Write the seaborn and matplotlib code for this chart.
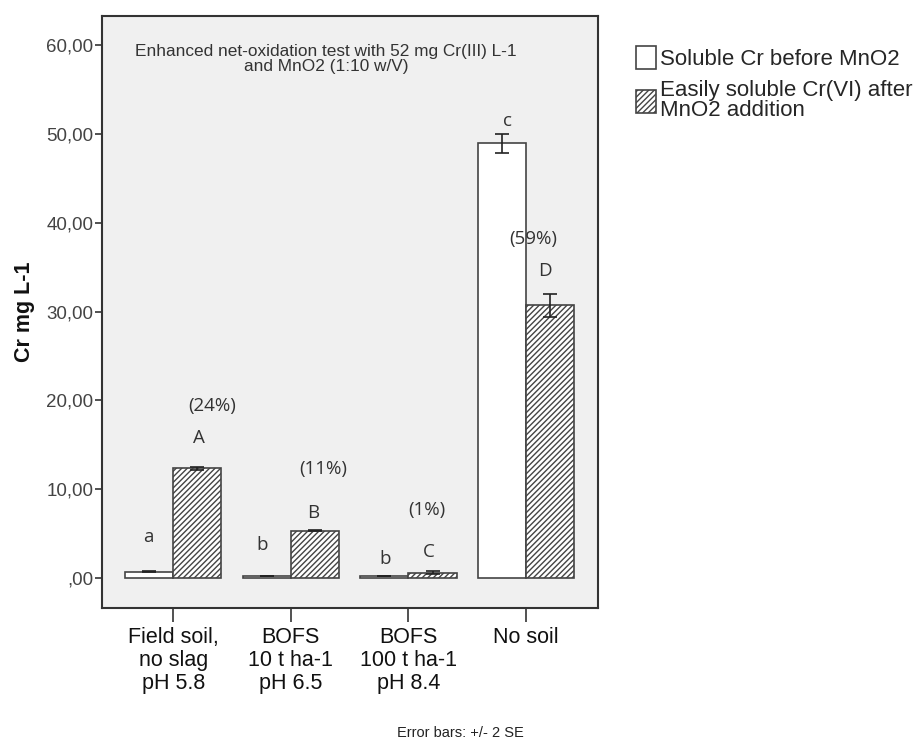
import matplotlib
matplotlib.use("Agg")
import matplotlib.pyplot as plt
from matplotlib.patches import Patch
from matplotlib.ticker import FuncFormatter
import seaborn as sns
import pandas as pd

# ---- data ----
categories = ["Field soil,\nno slag\npH 5.8", "BOFS\n10 t ha-1\npH 6.5",
              "BOFS\n100 t ha-1\npH 8.4", "No soil"]
series_names = ["Soluble Cr before MnO2", "Easily soluble Cr(VI) after\nMnO2 addition"]
before_vals = [0.71, 0.2, 0.2, 48.95]
before_err = [0.05, 0.03, 0.03, 1.07]
after_vals = [12.35, 5.33, 0.6, 30.7]
after_err = [0.15, 0.08, 0.15, 1.3]
letters_before = ["a", "b", "b", "c"]
letters_after = ["A", "B", "C", "D"]
pct_labels = ["(24%)", "(11%)", "(1%)", "(59%)"]
yticks = [0, 10, 20, 30, 40, 50, 60]

df = pd.DataFrame({
    "cat": categories * 2,
    "series": [series_names[0]] * 4 + [series_names[1]] * 4,
    "value": before_vals + after_vals,
})

sns.set_style("white")
plt.rcParams["font.family"] = ["Liberation Sans", "DejaVu Sans"]
plt.rcParams["hatch.linewidth"] = 1.0
plt.rcParams["hatch.color"] = "#333333"

fig = plt.figure(figsize=(9.21, 7.48), dpi=100)
ax = fig.add_axes([0.1107, 0.1872, 0.5385, 0.7914])
ax.set_facecolor("#f0f0f0")

sns.barplot(data=df, x="cat", y="value", hue="series", order=categories,
            hue_order=series_names, palette=["white", "white"],
            edgecolor="#444444", linewidth=1.2, width=0.82, errorbar=None,
            legend=False, ax=ax)

bars = [p for p in ax.patches]
nb = len(categories)
for p in bars[nb:2 * nb]:
    p.set_hatch("//////")

errs = before_err + after_err
for p, e in zip(bars[:2 * nb], errs):
    cx = p.get_x() + p.get_width() / 2
    ax.errorbar(cx, p.get_height(), yerr=e, fmt="none", ecolor="#222222",
                elinewidth=1.2, capsize=5, capthick=1.2, zorder=5)

# letters / percentages
ann_font = ["Open Sans", "DejaVu Sans"]
lb_y = [4.6, 3.7, 2.1, 51.5]
la_y = [15.8, 7.3, 2.9, 34.6]
pc_y = [19.4, 12.3, 7.7, 38.2]
lb_dx = [-0.21, -0.24, -0.2, -0.16]
la_dx = [0.22, 0.19, 0.175, 0.16]
pc_dx = [0.33, 0.275, 0.158, 0.06]
for i in range(nb):
    ax.text(i + lb_dx[i], lb_y[i], letters_before[i], ha="center", va="center",
            fontsize=13.5, family=ann_font, color="#333333")
    ax.text(i + la_dx[i], la_y[i], letters_after[i], ha="center", va="center",
            fontsize=13.5, family=ann_font, color="#333333")
    ax.text(i + pc_dx[i], pc_y[i], pct_labels[i], ha="center", va="center",
            fontsize=13.5, family=ann_font, color="#333333")

ax.text(0.452, 0.953, "Enhanced net-oxidation test with 52 mg Cr(III) L-1\nand MnO2 (1:10 w/V)",
        transform=ax.transAxes, ha="center", va="top", fontsize=12.4,
        color="#333333", linespacing=1.0)

ax.set_xlim(-0.605, 3.61)
ax.set_ylim(-3.38, 63.3)
ax.set_yticks(yticks)
ax.yaxis.set_major_formatter(FuncFormatter(
    lambda v, pos: ",00" if v == 0 else f"{int(v)},00"))
ax.tick_params(axis="y", direction="out", length=5, width=1.2, color="#333333",
               labelsize=13.5, labelcolor="#444444", left=True, pad=1)
ax.tick_params(axis="x", direction="out", length=10, width=1.2, color="#333333",
               labelsize=15.5, labelcolor="#111111", bottom=True, pad=4)
for lbl in ax.get_xticklabels():
    lbl.set_linespacing(1.12)
ax.set_xlabel("")
ax.set_ylabel("Cr mg L-1", fontsize=15.5, fontweight="bold", color="#111111")
ax.yaxis.set_label_coords(-0.135, 0.5)

for s in ax.spines.values():
    s.set_visible(True)
    s.set_color("#333333")
    s.set_linewidth(1.5)

handles = [Patch(facecolor="white", edgecolor="#444444", linewidth=1.2),
           Patch(facecolor="white", edgecolor="#444444", linewidth=1.2, hatch="//////")]
leg = fig.legend(handles, series_names, loc="upper left",
                 bbox_to_anchor=(0.691, 0.938), frameon=False, fontsize=16,
                 handlelength=0.9, handleheight=1.2, handletextpad=0.15,
                 labelspacing=0.45, borderpad=0, borderaxespad=0)
for t in leg.get_texts():
    t.set_linespacing(0.95)

fig.text(0.5, 0.011, "Error bars: +/- 2 SE", ha="center", va="bottom",
         fontsize=10.5, color="#222222",
         family=["Liberation Sans Narrow", "Liberation Sans", "DejaVu Sans"])

fig.savefig("out.png", dpi=100, facecolor="white")
